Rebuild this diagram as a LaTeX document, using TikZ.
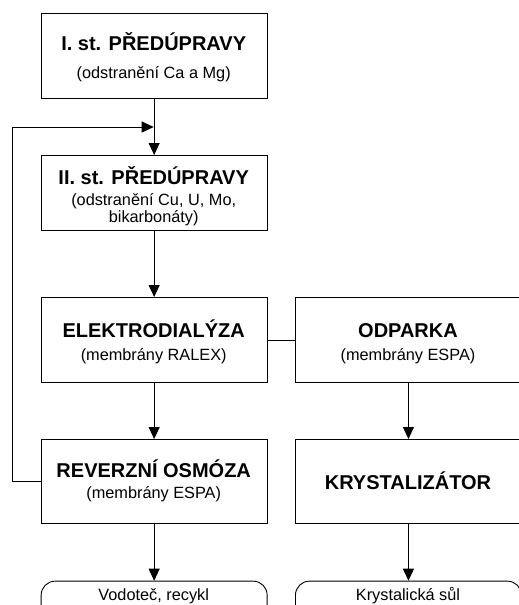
\documentclass[tikz,border=0pt]{standalone}
\usepackage{fontspec}
\setmainfont{Liberation Sans}
\usetikzlibrary{arrows.meta}
\begin{document}
\begin{tikzpicture}[x=1pt,y=-1pt,
  box/.style={draw,line width=0.9pt,minimum width=226pt,inner sep=0pt,anchor=north west},
  endbox/.style={box,rounded corners=14pt,minimum height=50pt},
  ttl/.style={anchor=base,inner sep=0pt,font=\fontsize{20}{24}\selectfont\bfseries},
  sub/.style={anchor=base,inner sep=0pt,font=\fontsize{16.3}{18}\selectfont},
  conn/.style={line width=0.9pt},
  arr/.style={conn,-{Triangle[length=12pt,width=11pt]}}]
\clip (0,0) rectangle (519,605);
% boxes
\node[box,minimum height=85pt] (b1) at (40.7,13) {};
\node[box,minimum height=75pt] (b2) at (40.7,155) {};
\node[box,minimum height=85pt] (b3) at (40.7,297) {};
\node[box,minimum height=85pt] (b4) at (295,297) {};
\node[box,minimum height=84pt] (b5) at (40.7,439) {};
\node[box,minimum height=84pt] (b6) at (295,439) {};
\node[endbox] (o1) at (40.7,580.7) {};
\node[endbox] (o2) at (295,580.7) {};
% texts
\node[ttl] (t1) at (153.7,50) {I. st. PŘEDÚPRAVY};
\node[sub] (s1) at (153.7,78) {(odstranění Ca a Mg)};
\node[ttl] (t2) at (153.7,184) {II. st. PŘEDÚPRAVY};
\node[sub] (s2a) at (153.7,205) {(odstranění Cu, U, Mo,};
\node[sub] (s2b) at (153.7,222) {bikarbonáty)};
\node[ttl] (t3) at (153.7,337) {ELEKTRODIALÝZA};
\node[sub] (s3) at (153.7,360) {(membrány RALEX)};
\node[ttl] (t4) at (408,337) {ODPARKA};
\node[sub] (s4) at (408,360) {(membrány ESPA)};
\node[ttl] (t5) at (153.7,477) {REVERZNÍ OSMÓZA};
\node[sub] (s5) at (153.7,498) {(membrány ESPA)};
\node[ttl] (t6) at (408,489) {KRYSTALIZÁTOR};
\node[sub] (e1) at (153.7,600.7) {Vodoteč, recykl};
\node[sub] (e2) at (408,600.7) {Krystalická sůl};
% connectors
\coordinate (m) at (153.7,127);
\coordinate (fbl) at (12.7,127);
\draw[arr] (b1.south) -- (b2.north);
\draw[arr] (b2.south) -- (b3.north);
\draw[arr] (b3.south) -- (b5.north);
\draw[arr] (b4.south) -- (b6.north);
\draw[arr] (b5.south) -- (o1.north);
\draw[arr] (b6.south) -- (o2.north);
\draw[conn] (b3.east) -- (b4.west);
\draw[arr] (b5.west) -| (fbl) -- (m);
\end{tikzpicture}
\end{document}
